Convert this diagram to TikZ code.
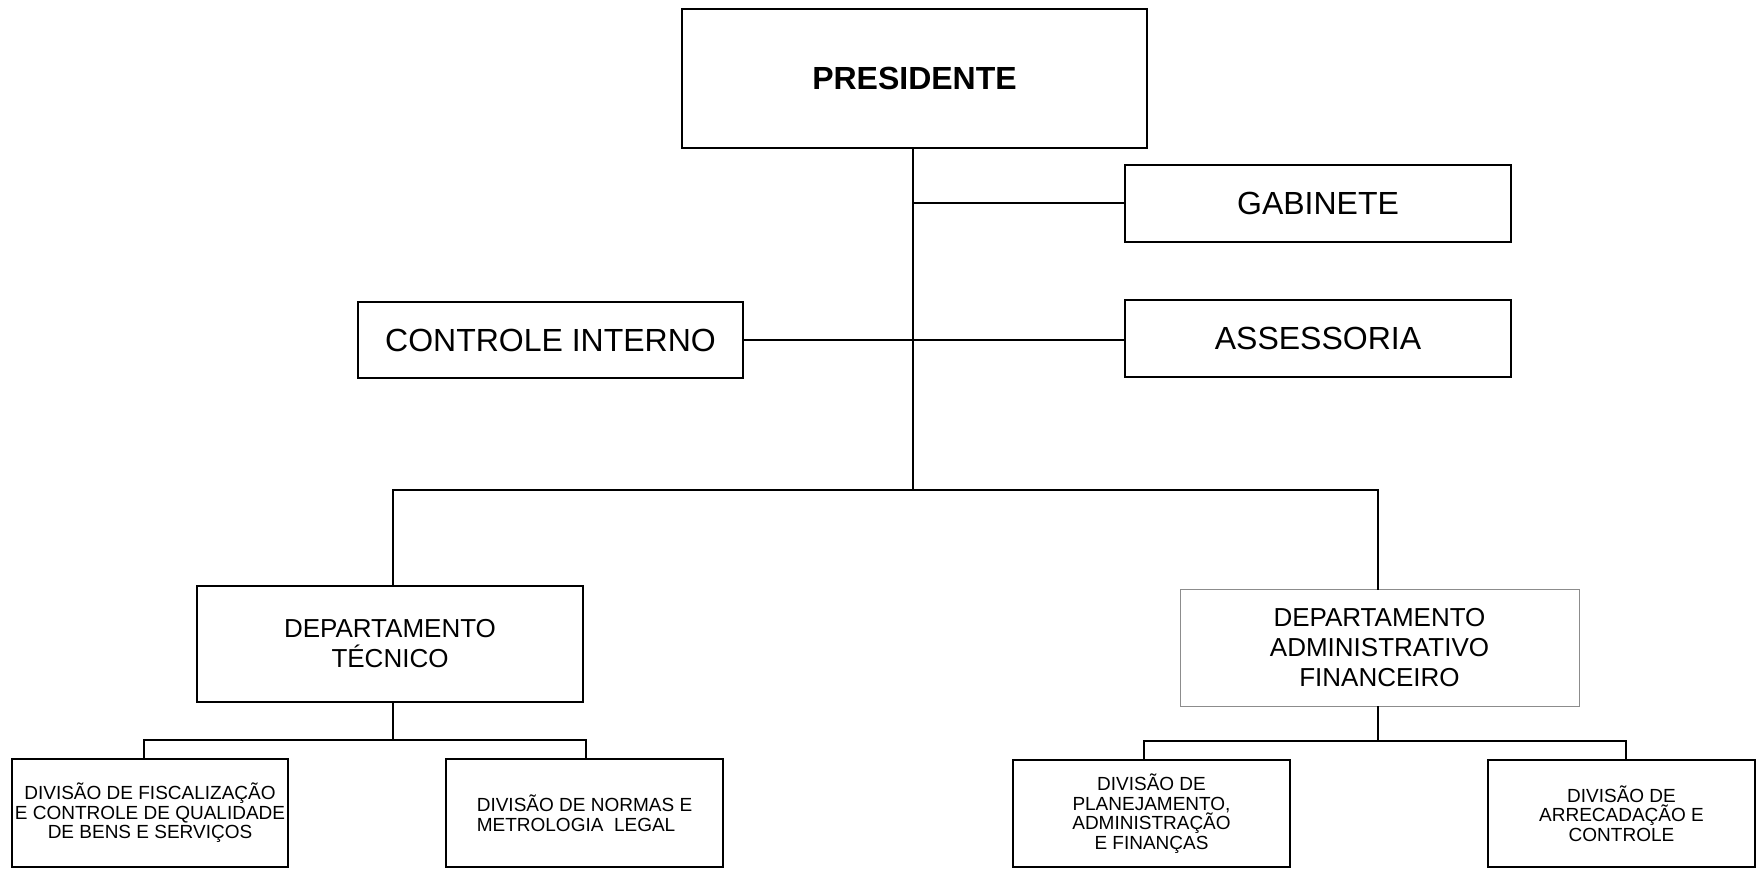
\documentclass[tikz,border=0pt]{standalone}
\usepackage{fontspec}
\setmainfont{Liberation Sans}
\begin{document}
\begin{tikzpicture}[x=1pt,y=-1pt,
  box/.style={draw, line width=2pt, inner sep=0pt, align=center},
  big/.style={font=\fontsize{32}{36}\selectfont},
  mid/.style={font=\fontsize{26}{30}\selectfont},
  small/.style={font=\fontsize{19}{19.5}\selectfont},
  conn/.style={line width=2pt, line cap=rect}]
\useasboundingbox[fill=white] (0,0) rectangle (1757,869);

\node[box, line width=2.6pt, big, minimum width=465, minimum height=139] (pres) at (914.5,78.5) {\bfseries PRESIDENTE};
\node[box, big, minimum width=386, minimum height=77] (gab) at (1318,203.5) {GABINETE};
\node[box, big, minimum width=385, minimum height=76] (ci) at (550.5,340) {CONTROLE INTERNO};
\node[box, big, minimum width=386, minimum height=77] (ass) at (1318,338) {ASSESSORIA};

\node[box, mid, minimum width=386, minimum height=116] (dt) at (390,644) {DEPARTAMENTO\\T\'ECNICO};
\node[box, mid, draw=black!45, line width=1pt, minimum width=399, minimum height=117] (daf) at (1379.5,647.5) {DEPARTAMENTO\\ADMINISTRATIVO\\FINANCEIRO};

\node[box, small, minimum width=276, minimum height=108] (fis) at (150,813) {DIVISÃO DE FISCALIZAÇÃO\\E CONTROLE DE QUALIDADE\\DE BENS E SERVIÇOS};
\node[box, small, minimum width=277, minimum height=108, align=left] (nor) at (584.5,813) {DIVISÃO DE NORMAS E\\METROLOGIA\ \ LEGAL};
\node[box, small, minimum width=277, minimum height=107] (pla) at (1151.5,813.5) {DIVISÃO DE\\PLANEJAMENTO,\\ADMINISTRAÇÃO\\E FINANÇAS};
\node[box, small, minimum width=267, minimum height=107] (arr) at (1621.5,813.5) {DIVISÃO DE\\ARRECADAÇÃO E\\CONTROLE};

% trunk
\coordinate (t) at (913,490);
\draw[conn] (pres.south -| t) -- (t);
\draw[conn] (gab.west) -- (gab.west -| t);
\draw[conn] (ci.east) -- (ci.east -| ass.west);

% main bus
\coordinate (dtx) at (393,490);
\coordinate (dafx) at (1378,490);
\draw[conn] (dt.north -| dtx) -- (dtx) -- (dafx) -- (daf.north -| dafx);

% left sub bus
\coordinate (s1) at (393,740);
\coordinate (f1) at (144,740);
\coordinate (n1) at (586,740);
\draw[conn] (dt.south -| s1) -- (s1);
\draw[conn] (fis.north -| f1) -- (f1) -- (n1) -- (nor.north -| n1);

% right sub bus
\coordinate (s2) at (1378,741);
\coordinate (p1) at (1144,741);
\coordinate (a1) at (1626,741);
\draw[conn] (daf.south -| s2) -- (s2);
\draw[conn] (pla.north -| p1) -- (p1) -- (a1) -- (arr.north -| a1);
\end{tikzpicture}
\end{document}
